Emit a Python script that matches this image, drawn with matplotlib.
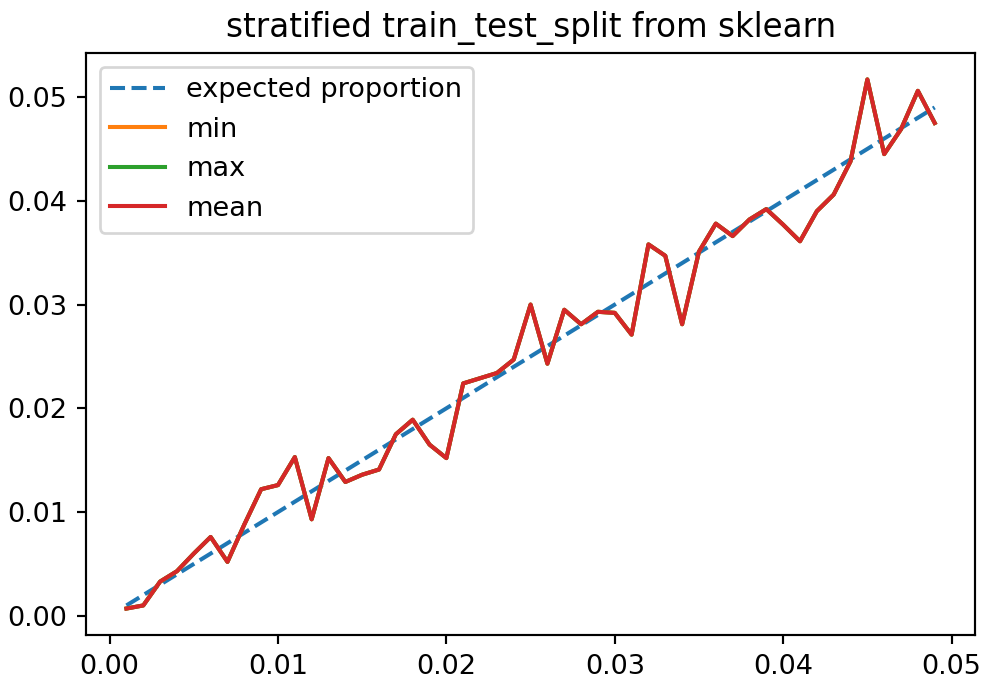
import matplotlib
matplotlib.use('Agg')
import matplotlib.pyplot as plt
import numpy as np

# test-set proportions that were requested
test_size = np.arange(1, 50) / 1000.0

# observed proportion of the rare class across splits
mean_prop = [0.0007, 0.0010, 0.0033, 0.0043, 0.0060, 0.0076, 0.0052, 0.0088,
             0.0122, 0.0126, 0.0153, 0.0093, 0.0152, 0.0129, 0.0136, 0.0141,
             0.0175, 0.0189, 0.0165, 0.0152, 0.0224, 0.0229, 0.0234, 0.0247,
             0.0300, 0.0243, 0.0295, 0.0281, 0.0293, 0.0292, 0.0271, 0.0358,
             0.0347, 0.0281, 0.0351, 0.0378, 0.0366, 0.0382, 0.0392, 0.0377,
             0.0361, 0.0390, 0.0406, 0.0438, 0.0517, 0.0445, 0.0469, 0.0506,
             0.0475]
# stratified split is deterministic here, so min/max coincide with the mean
min_prop = list(mean_prop)
max_prop = list(mean_prop)

DPI = 195
fig = plt.figure(figsize=(982 / DPI, 679 / DPI), dpi=DPI)
ax = fig.add_subplot()
fig.subplots_adjust(left=0.0876, right=0.993, bottom=0.0648, top=0.922)

ax.plot(test_size, test_size, '--', label='expected proportion')
ax.plot(test_size, min_prop, label='min')
ax.plot(test_size, max_prop, label='max')
ax.plot(test_size, mean_prop, label='mean')
ax.set_title('stratified train_test_split from sklearn')
ax.legend(loc='upper left')

fig.savefig('out.png', dpi=DPI)
